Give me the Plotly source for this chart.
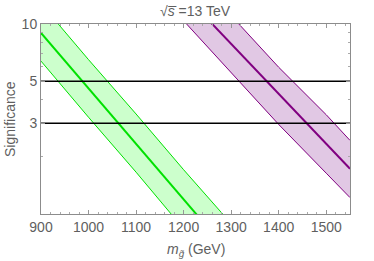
import plotly.graph_objects as go

# gluino mass grid (GeV)
mass_green = [900, 1000, 1100, 1200, 1300]
green_center = [8.97, 4.57, 2.36, 1.19, 0.61]
green_upper = [12.8, 6.49, 3.36, 1.71, 0.89]
green_lower = [6.38, 3.23, 1.66, 0.84, 0.42]

mass_purple = [1200, 1300, 1400, 1500, 1550]
purple_center = [14.4, 7.85, 4.26, 2.33, 1.73]
purple_upper = [20.7, 11.1, 5.92, 3.33, 2.44]
purple_lower = [10.4, 5.57, 2.96, 1.64, 1.22]

thresholds = [5, 3]
x_ticks = [900, 1000, 1100, 1200, 1300, 1400, 1500]
y_ticks = [3, 5, 10]
y_minor = [2, 4, 6, 7, 8, 9]

GREEN_LINE = "rgb(0,225,0)"
GREEN_FILL = "rgba(204,255,204,1)"
PURPLE_LINE = "rgb(128,0,128)"
PURPLE_FILL = "rgba(225,200,228,1)"
TXT = "rgb(95,95,95)"
FONT = "Liberation Sans, Arial, sans-serif"
FS = 14

fig = go.Figure()

def band(x, lo, hi, mid, line_c, fill_c):
    fig.add_trace(go.Scatter(x=x, y=lo, mode="lines", line=dict(color=line_c, width=1),
                             showlegend=False, hoverinfo="skip"))
    fig.add_trace(go.Scatter(x=x, y=hi, mode="lines", line=dict(color=line_c, width=1),
                             fill="tonexty", fillcolor=fill_c, showlegend=False, hoverinfo="skip"))
    fig.add_trace(go.Scatter(x=x, y=mid, mode="lines", line=dict(color=line_c, width=2),
                             showlegend=False, hoverinfo="skip"))

band(mass_green, green_lower, green_upper, green_center, GREEN_LINE, GREEN_FILL)
band(mass_purple, purple_lower, purple_upper, purple_center, PURPLE_LINE, PURPLE_FILL)

for t in thresholds:
    fig.add_trace(go.Scatter(x=[900, 1550], y=[t, t], mode="lines",
                             line=dict(color="black", width=1.5),
                             showlegend=False, hoverinfo="skip"))

fig.update_layout(
    width=374, height=261,
    margin=dict(l=41, r=24, t=24, b=47),
    paper_bgcolor="white", plot_bgcolor="white",
    font=dict(family=FONT, size=FS, color=TXT),
    xaxis=dict(range=[900, 1550], tickvals=x_ticks, ticks="inside", ticklen=4,
               tickcolor="rgb(150,150,150)", showline=True, linecolor="rgb(140,140,140)",
               linewidth=1, mirror="ticks", showgrid=False, zeroline=False, automargin=False,
               tickfont=dict(size=FS, color=TXT),
               minor=dict(dtick=20, tick0=900, ticks="inside", ticklen=2, tickcolor="rgb(170,170,170)")),
    yaxis=dict(type="log", range=[0, 1], tickvals=y_ticks, ticktext=[str(v) for v in y_ticks],
               ticks="inside", ticklen=4, tickcolor="rgb(150,150,150)",
               showline=True, linecolor="rgb(140,140,140)", linewidth=1, mirror="ticks",
               showgrid=False, zeroline=False, automargin=False,
               tickfont=dict(size=FS, color=TXT),
               minor=dict(tickvals=y_minor, ticks="inside", ticklen=2, tickcolor="rgb(170,170,170)")),
    annotations=[
        dict(text="√<i>s\u0305</i> =13 TeV",
             xref="paper", yref="paper", x=0.5, y=1.0, yshift=3, xanchor="center", yanchor="bottom",
             showarrow=False, font=dict(size=FS, color=TXT)),
        dict(text="<i>m</i><sub><i>g\u0303</i></sub> (GeV)",
             xref="paper", yref="paper", x=0.5, y=0, yshift=-25, xanchor="center", yanchor="top",
             showarrow=False, font=dict(size=FS, color=TXT)),
        dict(text="Significance", textangle=-90,
             xref="paper", yref="paper", x=0, xshift=-31, y=0.5, xanchor="center", yanchor="middle",
             showarrow=False, font=dict(size=FS, color=TXT)),
    ],
)

fig.write_html("out.html", config={"displayModeBar": False},
               post_script="document.body.style.margin='0';")
